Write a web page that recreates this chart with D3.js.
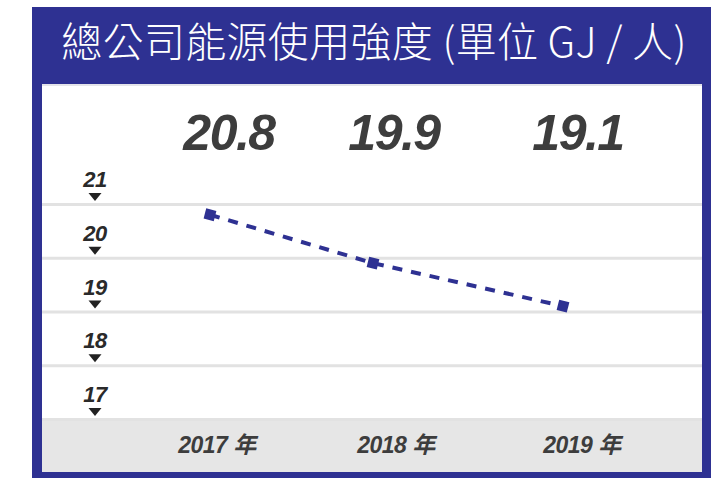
<!DOCTYPE html>
<html><head><meta charset="utf-8">
<script src="https://cdn.jsdelivr.net/npm/d3@7/dist/d3.min.js"></script>
<style>html,body{margin:0;padding:0;background:#fff;}svg{display:block;}</style>
</head><body>
<svg id="chart" width="720" height="478"></svg>
<script>
const title = "總公司能源使用強度 (單位 GJ / 人)";
const years = ["2017", "2018", "2019"];
const yearSuffix = " 年";
const values = [20.8, 19.9, 19.1];
const valueLabels = ["20.8", "19.9", "19.1"];
const yTicks = [21, 20, 19, 18, 17];

const blue = "#2e3192";
const svg = d3.select("#chart");

// frame
svg.append("rect").attr("x", 32).attr("y", 7).attr("width", 679).attr("height", 471).attr("fill", blue);
svg.append("rect").attr("x", 42).attr("y", 84).attr("width", 660).attr("height", 388).attr("fill", "#ffffff");
svg.append("rect").attr("x", 42).attr("y", 84).attr("width", 660).attr("height", 2).attr("fill", "#e4e4ea");

svg.append("text").attr("x", 374).attr("y", 57).attr("text-anchor", "middle")
  .attr("fill", "#fff").attr("font-family", "'Noto Sans CJK TC', 'Noto Sans'")
  .attr("font-weight", 300).attr("font-size", 41).attr("letter-spacing", 0.3).text(title);

const y = d3.scaleLinear().domain([17, 21]).range([419, 204]);
const xVal = d3.scaleOrdinal().domain(years).range([229, 394, 578]);
const xYear = d3.scaleOrdinal().domain(years).range([217, 396, 582]);
const xPt = d3.scaleOrdinal().domain(years).range([210, 373, 563]);

// grey band for x labels
svg.append("rect").attr("x", 42).attr("y", y(17)).attr("width", 660).attr("height", 472 - y(17)).attr("fill", "#e6e6e6");

// gridlines
const grid = svg.append("g");
grid.selectAll("rect").data(yTicks).join("rect")
  .attr("x", 42).attr("width", 660).attr("y", d => y(d) - 1).attr("height", 3).attr("fill", "#e2e2e2");

// y tick labels with triangles
const tk = svg.append("g");
tk.selectAll("text").data(yTicks).join("text")
  .attr("x", 95).attr("y", d => y(d) - 17).attr("text-anchor", "middle")
  .attr("font-family", "'Liberation Sans', Arial").attr("font-weight", "bold").attr("font-style", "italic")
  .attr("font-size", 22).attr("fill", "#2a2a2a").attr("letter-spacing", -0.5).text(d => d);
tk.selectAll("path").data(yTicks).join("path")
  .attr("d", d => `M${95 - 6.5},${y(d) - 11}L${95 + 6.5},${y(d) - 11}L95,${y(d) - 3}Z`)
  .attr("fill", "#222");

// value labels
svg.append("g").selectAll("text").data(years).join("text")
  .attr("x", d => xVal(d)).attr("y", 150).attr("text-anchor", "middle")
  .attr("font-family", "'Liberation Sans', Arial").attr("font-weight", "bold").attr("font-style", "italic")
  .attr("font-size", 50).attr("fill", "#3d3d3d").attr("letter-spacing", -1.5)
  .text((d, i) => valueLabels[i]);

// year labels
svg.append("g").selectAll("text").data(years).join("text")
  .attr("x", d => xYear(d)).attr("y", 453).attr("text-anchor", "middle")
  .attr("font-family", "'Liberation Sans', 'Noto Sans CJK TC'").attr("font-weight", "bold").attr("font-style", "italic")
  .attr("font-size", 23).attr("fill", "#3d3d3d").attr("letter-spacing", -0.5)
  .text(d => d + yearSuffix);

// dashed line
const pts = years.map((d, i) => [xPt(d), y(values[i])]);
svg.append("path").attr("d", d3.line()(pts)).attr("fill", "none")
  .attr("stroke", blue).attr("stroke-width", 4).attr("stroke-dasharray", "10,9");

// markers
const ang = Math.atan2(pts[2][1] - pts[0][1], pts[2][0] - pts[0][0]) * 180 / Math.PI;
svg.append("g").selectAll("path").data(pts).join("path")
  .attr("d", d3.symbol(d3.symbolSquare, 110)())
  .attr("transform", d => `translate(${d[0]},${d[1]}) rotate(${ang})`)
  .attr("fill", blue);
</script>
</body></html>
